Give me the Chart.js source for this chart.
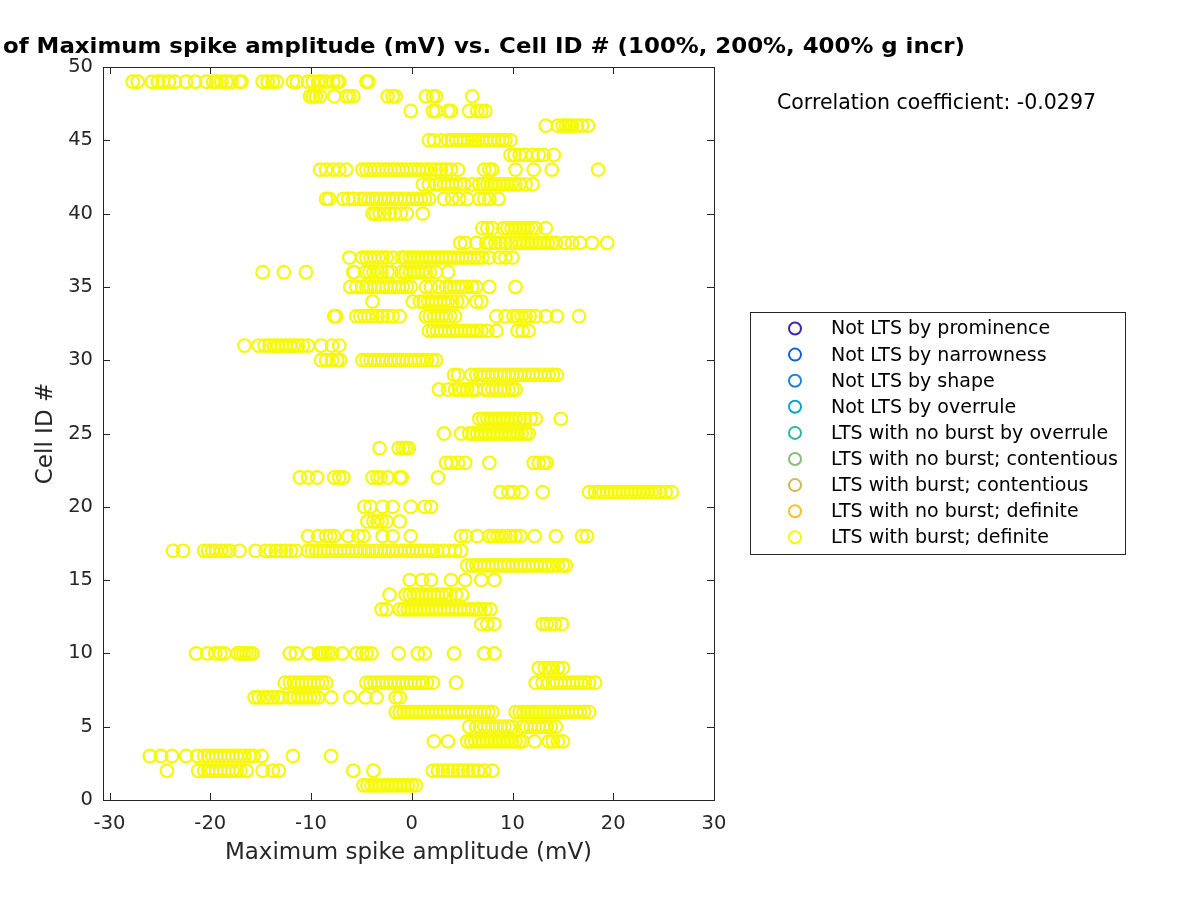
<!DOCTYPE html>
<html>
<head>
<meta charset="utf-8">
<script src="https://cdn.jsdelivr.net/npm/chart.js@4.4.0/dist/chart.umd.min.js"></script>
<style>
  html, body { margin: 0; padding: 0; background: #fff; }
  #wrap { width: 1200px; height: 900px; }
</style>
</head>
<body>
<div id="wrap"><canvas id="scatterChart" width="1200" height="900"></canvas></div>
<script>
// Maximum spike amplitude (mV) read per cell ID
const c01 = [-4.8,-4.4,-4.0,-3.6,-3.2,-2.8,-2.4,-2.0,-1.6,-1.2,-0.8,-0.4,0.0,0.4];
const c02 = [-24.3,-21.2,-20.6,-20.2,-19.8,-19.4,-19.0,-18.6,-18.2,-17.8,-17.4,-17.0,-16.4,-14.8,-13.8,-13.2,-5.8,-3.8,2.1,2.6,3.1,3.6,4.1,4.6,5.1,5.6,6.1,6.6,7.2,8.0];
const c03 = [-26.0,-24.9,-23.8,-22.4,-21.3,-20.6,-20.2,-19.8,-19.4,-19.0,-18.6,-18.2,-17.8,-17.4,-17.0,-16.6,-16.1,-15.7,-14.9,-11.8,-8.0];
const c04 = [2.2,3.6,5.5,5.9,6.3,6.7,7.1,7.5,7.9,8.3,8.7,9.1,9.5,9.9,10.3,10.7,11.0,12.2,13.6,14.0,14.5,15.0];
const c05 = [5.7,6.4,6.8,7.2,7.6,8.0,8.4,8.8,9.2,9.6,10.0,11.0,11.4,11.8,12.2,12.6,13.0,13.4,13.8,14.3];
const c06 = [-1.6,-1.2,-0.8,-0.4,0.0,0.4,0.8,1.2,1.6,2.0,2.4,2.8,3.2,3.6,4.0,4.4,4.8,5.2,5.6,6.0,6.4,6.8,7.2,7.6,8.0,10.3,10.7,11.1,11.5,11.9,12.3,12.7,13.1,13.5,13.9,14.3,14.7,15.1,15.5,15.9,16.3,16.7,17.1,17.6];
const c07 = [-15.6,-15.2,-14.7,-14.3,-13.8,-13.3,-12.9,-12.1,-11.7,-11.3,-10.9,-10.5,-10.1,-9.7,-9.3,-8.0,-6.1,-4.6,-3.5,-1.6,-1.2];
const c08 = [-12.6,-12.1,-11.7,-11.3,-10.9,-10.5,-10.1,-9.7,-9.3,-8.9,-8.5,-4.5,-4.1,-3.7,-3.3,-2.9,-2.5,-2.1,-1.7,-1.3,-0.9,-0.5,-0.1,0.3,0.7,1.1,1.5,2.1,4.4,12.3,13.0,13.6,14.0,14.4,14.8,15.2,15.6,16.0,16.4,16.8,17.2,17.6,18.2];
const c09 = [12.6,13.2,13.6,14.0,14.5,15.0];
const c10 = [-21.4,-20.3,-19.5,-19.0,-18.6,-17.3,-17.0,-16.7,-16.4,-16.1,-15.8,-12.1,-11.5,-10.2,-9.2,-8.9,-8.6,-8.3,-7.9,-6.9,-5.5,-4.9,-4.5,-4.0,-1.3,0.6,1.3,4.2,7.2,8.2];
const c12 = [6.9,7.5,8.2,13.0,13.4,13.8,14.2,14.9];
const c13 = [-3.0,-2.5,-1.2,-0.8,-0.4,0.0,0.4,0.8,1.2,1.6,2.0,2.4,2.8,3.2,3.6,4.0,4.4,4.8,5.2,5.6,6.0,6.4,6.8,7.3,7.8];
const c14 = [-2.2,-0.6,-0.2,0.2,0.6,1.0,1.4,1.8,2.2,2.6,3.0,3.4,3.8,4.4,5.0];
const c15 = [-0.2,1.0,1.9,3.9,5.3,6.9,8.2];
const c16 = [5.5,6.0,6.4,6.8,7.2,7.6,8.0,8.4,8.8,9.2,9.6,10.0,10.4,10.8,11.2,11.6,12.0,12.4,12.8,13.2,13.6,14.0,14.5,15.0,15.3];
const c17 = [-23.7,-22.7,-20.6,-20.2,-19.8,-19.4,-18.9,-18.5,-18.1,-17.1,-15.5,-14.5,-14.0,-13.5,-13.0,-12.5,-12.0,-11.5,-10.3,-9.9,-9.5,-9.1,-8.7,-8.3,-7.9,-7.5,-7.1,-6.7,-6.3,-5.9,-5.5,-5.1,-4.7,-4.3,-3.9,-3.5,-3.1,-2.7,-2.3,-1.9,-1.5,-1.1,-0.7,-0.3,0.1,0.5,0.9,1.3,1.7,2.1,2.5,3.1,3.7,4.3,4.9];
const c18 = [-10.3,-9.3,-8.5,-8.1,-7.7,-6.3,-5.3,-4.8,-2.9,-1.9,-0.1,4.9,5.4,6.5,7.7,8.1,8.5,8.9,9.3,9.8,10.3,10.8,12.2,14.3,16.9,17.4];
const c19 = [-4.4,-3.8,-3.4,-3.0,-2.5,-1.2];
const c20 = [-4.7,-4.1,-2.9,-1.9,-0.1,1.3,1.9];
const c21 = [8.8,9.6,10.1,10.9,13.0,17.6,18.2,18.6,19.0,19.4,19.8,20.2,20.6,21.0,21.4,21.8,22.2,22.6,23.0,23.4,23.8,24.2,24.6,25.2,25.8];
const c22 = [-11.1,-10.3,-9.4,-7.7,-7.2,-6.8,-3.9,-3.4,-3.1,-2.4,-1.2,-1.0,2.6];
const c23 = [3.4,3.9,4.6,5.3,7.7,12.1,12.6,13.1,13.4];
const c24 = [-3.2,-1.3,-0.9,-0.6,-0.3];
const c25 = [3.2,4.9,5.7,6.1,6.5,6.9,7.3,7.7,8.1,8.5,8.9,9.3,9.7,10.1,10.5,10.9,11.3,11.6];
const c26 = [6.7,7.1,7.5,7.9,8.3,8.7,9.1,9.5,9.9,10.3,10.7,11.2,11.8,12.3,14.8];
const c28 = [2.7,3.6,4.3,4.7,5.1,5.5,6.0,6.4,7.2,7.6,8.0,8.4,8.8,9.2,9.6,10.0,10.3];
const c29 = [4.2,4.6,5.9,6.4,6.8,7.2,7.6,8.0,8.4,8.8,9.2,9.6,10.0,10.4,10.8,11.2,11.6,12.0,12.4,12.8,13.2,13.6,14.0,14.4];
const c30 = [-9.0,-8.5,-7.9,-7.4,-7.1,-4.9,-4.5,-4.1,-3.7,-3.3,-2.9,-2.5,-2.1,-1.7,-1.3,-0.9,-0.5,-0.1,0.3,0.7,1.1,1.5,2.0,2.4];
const c31 = [-16.6,-15.2,-14.6,-14.1,-13.7,-13.3,-12.9,-12.5,-12.1,-11.7,-11.3,-10.8,-10.3,-9.0,-7.9,-7.2];
const c32 = [1.7,2.1,2.5,2.9,3.3,3.7,4.1,4.5,4.9,5.3,5.7,6.1,6.5,6.9,7.5,8.4,10.5,11.0,11.6];
const c33 = [-7.7,-7.5,-5.5,-5.1,-4.7,-4.3,-3.9,-3.4,-2.9,-2.4,-1.9,-1.2,1.4,1.8,2.2,2.6,3.0,3.4,3.8,4.3,8.4,9.3,10.1,10.5,10.9,11.3,11.7,12.3,13.3,14.4,16.6];
const c34 = [-3.9,0.1,0.8,1.2,1.6,2.0,2.4,2.8,3.2,3.6,4.0,4.5,5.0,6.4,6.9];
const c35 = [-6.1,-5.5,-4.9,-4.5,-4.1,-3.7,-3.3,-2.9,-2.5,-2.1,-1.7,-1.3,-0.9,-0.5,-0.1,1.4,1.9,2.7,3.4,3.8,4.2,4.6,5.0,5.4,6.0,6.4,7.7,10.3];
const c36 = [-14.8,-12.7,-10.5,-5.8,-5.7,-4.6,-4.2,-3.8,-3.4,-3.0,-2.4,-2.0,-1.0,-0.6,-0.2,0.2,0.6,1.0,1.4,1.8,2.4,3.6];
const c37 = [-6.2,-4.9,-4.5,-4.1,-3.7,-3.3,-2.9,-2.5,-1.9,-1.0,-0.6,-0.2,0.2,0.6,1.0,1.4,1.8,2.2,2.6,3.0,3.4,3.8,4.2,4.6,5.0,5.4,5.8,6.2,6.6,7.0,7.7,8.7,9.3,10.0];
const c38 = [4.8,5.3,6.4,7.4,7.8,8.3,8.8,9.3,9.8,10.3,10.7,11.1,11.5,11.9,12.3,12.7,13.1,13.5,13.9,14.3,15.2,15.9,16.7,17.9,19.4];
const c39 = [7.0,7.5,8.0,9.1,9.5,9.9,10.3,10.7,11.1,11.5,11.9,12.3,13.3];
const c40 = [-3.9,-3.6,-3.2,-2.7,-2.2,-1.7,-1.1,-0.5,1.1];
const c41 = [-8.5,-8.2,-6.8,-6.3,-5.8,-5.1,-4.7,-4.3,-3.9,-3.5,-3.1,-2.7,-2.3,-1.9,-1.5,-1.1,-0.7,-0.3,0.1,0.5,0.9,1.3,1.7,3.2,4.0,4.7,5.5,6.7,7.2,7.7,8.6];
const c42 = [1.1,1.7,2.4,2.8,3.2,3.6,4.0,4.4,4.8,5.2,6.0,6.7,7.1,7.5,7.9,8.3,8.7,9.1,9.5,9.9,10.3,10.7,11.3,12.0];
const c43 = [-9.1,-8.5,-7.8,-7.2,-6.5,-4.9,-4.5,-4.1,-3.7,-3.3,-2.9,-2.5,-2.1,-1.7,-1.3,-0.9,-0.5,-0.1,0.3,0.7,1.1,1.5,1.9,2.4,2.9,3.4,3.9,4.6,7.2,7.7,8.0,10.3,12.1,13.9,18.5];
const c44 = [9.8,10.2,10.7,11.3,12.0,12.6,13.1,14.1];
const c45 = [1.7,2.2,2.9,3.6,4.0,4.4,4.8,5.2,5.6,6.0,6.3,6.6,7.0,7.4,7.8,8.2,8.6,9.0,9.3,9.8];
const c46 = [13.3,14.5,15.0,15.3,15.6,15.9,16.4,16.9,17.5];
const c47 = [-0.1,2.1,2.4,3.6,3.9,5.7,6.5,6.9,7.3];
const c48 = [-10.1,-9.8,-9.5,-9.1,-7.7,-6.5,-6.2,-5.8,-2.4,-1.9,-1.6,1.4,2.1,2.4,6.0];
const c49 = [-27.7,-27.2,-25.8,-25.2,-24.7,-24.1,-23.5,-22.4,-21.5,-20.4,-19.7,-19.4,-18.9,-18.4,-17.9,-17.1,-16.9,-14.8,-14.3,-13.8,-13.4,-11.8,-11.4,-10.3,-9.8,-9.3,-9.0,-8.5,-7.8,-7.4,-7.2,-4.5,-4.3];

const cellIds = [1,2,3,4,5,6,7,8,9,10,12,13,14,15,16,17,18,19,20,21,22,23,24,25,26,28,29,30,31,32,33,34,35,36,37,38,39,40,41,42,43,44,45,46,47,48,49];
const cellAmps = [c01,c02,c03,c04,c05,c06,c07,c08,c09,c10,c12,c13,c14,c15,c16,c17,c18,c19,c20,c21,c22,c23,c24,c25,c26,c28,c29,c30,c31,c32,c33,c34,c35,c36,c37,c38,c39,c40,c41,c42,c43,c44,c45,c46,c47,c48,c49];

const classLabels = ['Not LTS by prominence','Not LTS by narrowness','Not LTS by shape','Not LTS by overrule','LTS with no burst by overrule','LTS with no burst; contentious','LTS with burst; contentious','LTS with no burst; definite','LTS with burst; definite'];
const classColors = ['#3e26a8','#0f5de0','#1a84da','#08a3c9','#2cb5a3','#83bf74','#d2b856','#fbc02d','#f7f70c'];

const xTicks = [-30,-20,-10,0,10,20,30];
const yTicks = [0,5,10,15,20,25,30,35,40,45,50];

const titleText = 'of Maximum spike amplitude (mV) vs. Cell ID # (100%, 200%, 400% g incr)';
const xLabel = 'Maximum spike amplitude (mV)';
const yLabel = 'Cell ID #';
const corrText = 'Correlation coefficient: -0.0297';

// build datasets: everything in the data is "LTS with burst; definite"
const burstPoints = [];
cellIds.forEach((id, i) => {
    cellAmps[i].forEach(v => burstPoints.push({ x: v, y: id }));
});

const datasets = classLabels.map((label, i) => ({
    label: label,
    data: i === classLabels.length - 1 ? burstPoints : [],
    borderColor: classColors[i],
    backgroundColor: 'rgba(0,0,0,0)',
    pointStyle: 'circle',
    pointRadius: 6.3,
    pointBorderWidth: 2.2,
    pointHoverRadius: 6.3
}));

const axisColor = '#262626';
const font = '"DejaVu Sans", "Liberation Sans", sans-serif';

// box, inward ticks, title, labels, legend
const decorPlugin = {
    id: 'decor',
    beforeDraw(chart) {
        const ctx = chart.ctx;
        ctx.save();
        ctx.fillStyle = '#ffffff';
        ctx.fillRect(0, 0, chart.width, chart.height);
        ctx.restore();
    },
    afterDraw(chart) {
        const ctx = chart.ctx;
        const a = chart.chartArea;
        const xs = chart.scales.x;
        const ys = chart.scales.y;
        ctx.save();
        ctx.strokeStyle = axisColor;
        ctx.lineWidth = 1;
        ctx.strokeRect(a.left + 0.5, a.top + 0.5, a.right - a.left, a.bottom - a.top);

        const tl = 7;
        ctx.beginPath();
        xTicks.forEach(t => {
            const px = Math.round(xs.getPixelForValue(t)) + 0.5;
            ctx.moveTo(px, a.bottom); ctx.lineTo(px, a.bottom - tl);
            ctx.moveTo(px, a.top); ctx.lineTo(px, a.top + tl);
        });
        yTicks.forEach(t => {
            const py = Math.round(ys.getPixelForValue(t)) + 0.5;
            ctx.moveTo(a.left, py); ctx.lineTo(a.left + tl, py);
            ctx.moveTo(a.right, py); ctx.lineTo(a.right - tl, py);
        });
        ctx.stroke();

        // title (left part falls off the figure in the original)
        ctx.fillStyle = '#000';
        ctx.font = 'bold 20px ' + font;
        ctx.textBaseline = 'middle';
        ctx.textAlign = 'left';
        const w = ctx.measureText(titleText).width;
        const sx = 962 / w;
        ctx.save();
        ctx.translate(3, 47);
        ctx.scale(sx, Math.max(1, sx * 0.95));
        ctx.fillText(titleText, 0, 0);
        ctx.restore();

        // axis labels
        ctx.fillStyle = axisColor;
        ctx.font = '23px ' + font;
        ctx.textAlign = 'center';
        ctx.fillText(xLabel, (a.left + a.right) / 2, 853);
        ctx.save();
        ctx.translate(46, (a.top + a.bottom) / 2);
        ctx.rotate(-Math.PI / 2);
        ctx.fillText(yLabel, 0, 0);
        ctx.restore();

        // correlation text
        ctx.fillStyle = '#000';
        ctx.font = '20.5px ' + font;
        ctx.textAlign = 'left';
        ctx.fillText(corrText, 777, 104);

        // legend
        ctx.strokeStyle = axisColor;
        ctx.lineWidth = 1;
        ctx.strokeRect(750.5, 312.5, 375, 242);
        ctx.font = '19px ' + font;
        classLabels.forEach((label, i) => {
            const y = 328.5 + i * 26.1;
            ctx.beginPath();
            ctx.strokeStyle = classColors[i];
            ctx.lineWidth = 2;
            ctx.arc(795, y, 6, 0, Math.PI * 2);
            ctx.stroke();
            ctx.fillStyle = '#000';
            ctx.fillText(label, 831, y + 1);
        });
        ctx.restore();
    }
};

const ctx = document.getElementById('scatterChart').getContext('2d');
new Chart(ctx, {
    type: 'scatter',
    data: { datasets: datasets },
    options: {
        responsive: false,
        animation: false,
        devicePixelRatio: 1,
        layout: { padding: { left: 0, right: 486, top: 67, bottom: 0 } },
        plugins: {
            legend: { display: false },
            title: { display: false },
            tooltip: { enabled: false }
        },
        scales: {
            x: {
                type: 'linear',
                min: -30.65,
                max: 30,
                afterBuildTicks: scale => { scale.ticks = xTicks.map(v => ({ value: v })); },
                afterFit: scale => { scale.height = 100; },
                grid: { display: false, drawTicks: false },
                border: { display: false },
                ticks: { color: axisColor, font: { family: font, size: 19.5 }, padding: 12 }
            },
            y: {
                type: 'linear',
                min: 0,
                max: 50,
                afterBuildTicks: scale => { scale.ticks = yTicks.map(v => ({ value: v })); },
                afterFit: scale => { scale.width = 103; },
                grid: { display: false, drawTicks: false },
                border: { display: false },
                ticks: { color: axisColor, font: { family: font, size: 19.5 }, padding: 10 }
            }
        }
    },
    plugins: [decorPlugin]
});
</script>
</body>
</html>
